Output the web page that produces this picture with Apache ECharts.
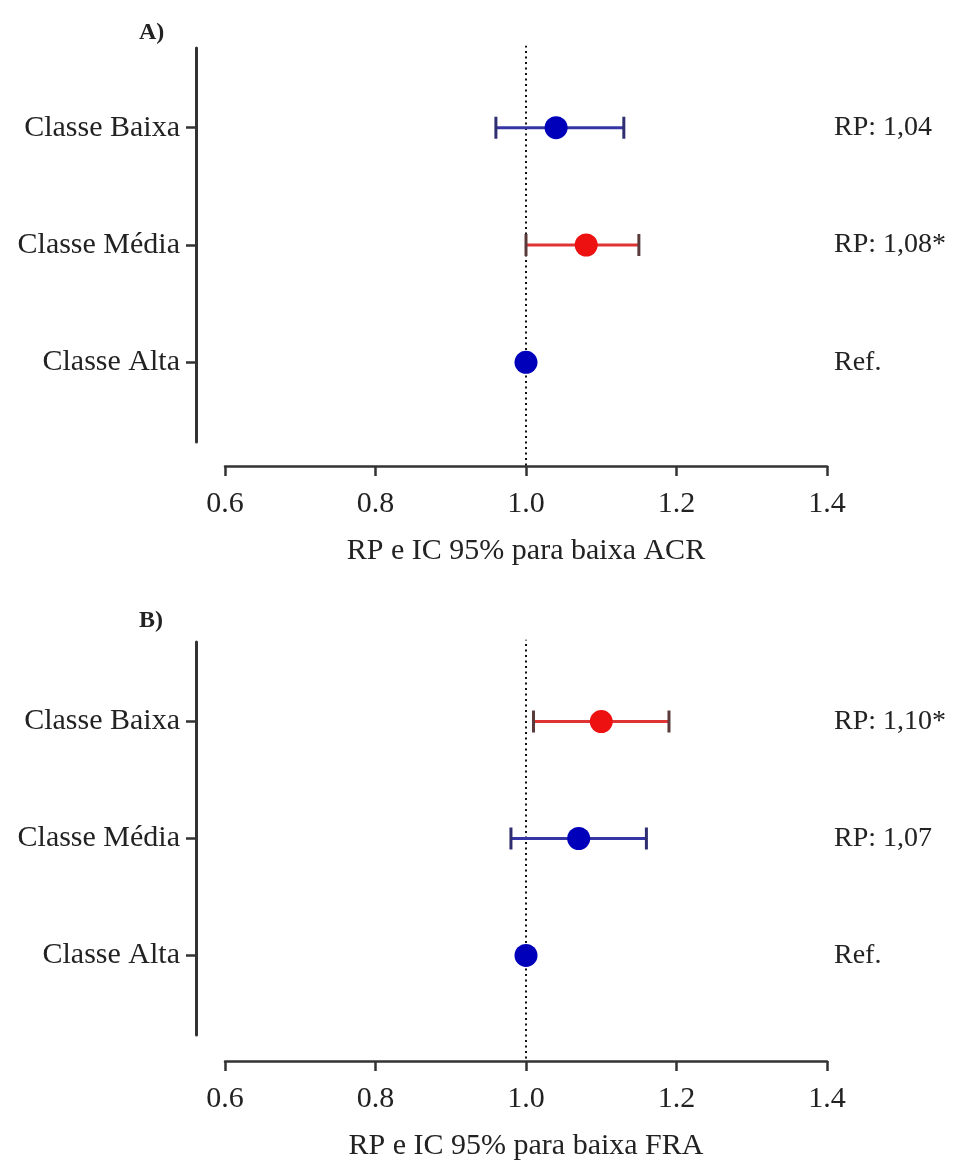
<!DOCTYPE html>
<html>
<head>
<meta charset="utf-8">
<script src="https://cdn.jsdelivr.net/npm/echarts@6/dist/echarts.min.js"></script>
<style>html,body{margin:0;padding:0;background:#fff;}#c{width:957px;height:1162px;}</style>
</head>
<body>
<div id="c"></div>
<script>
// ---- data ----
const categories = ['Classe Baixa', 'Classe Média', 'Classe Alta'];
const catPos = [3, 2, 1];
const xTicks = [0.6, 0.8, 1.0, 1.2, 1.4];

const rpA = [1.04, 1.08, 1.00];
const lowA = [0.96, 1.00, null];
const highA = [1.13, 1.15, null];
const sigA = [false, true, false];
const textA = ['RP: 1,04', 'RP: 1,08*', 'Ref.'];

const rpB = [1.10, 1.07, 1.00];
const lowB = [1.01, 0.98, null];
const highB = [1.19, 1.16, null];
const sigB = [true, false, false];
const textB = ['RP: 1,10*', 'RP: 1,07', 'Ref.'];

const refX = 1.0;
const refLineY = [0.12, 3.7];

// ---- styles ----
const FONT = 'Liberation Serif';
const TXT = '#222';
const AX = '#333';
const BLUE = '#0000bb';
const RED = '#ee1111';
const BLUE_BAR = '#3535a5';
const RED_BAR = '#e03434';

const chart = echarts.init(document.getElementById('c'), null, {renderer: 'canvas'});

function panel(i, top, height, xOffset, xName, rp, low, high, sig, txt) {
  const grid = {left: 225, right: 130, top: top, height: height};
  const xAxis = {
    gridIndex: i, type: 'value', min: 0.6, max: 1.4, interval: 0.2,
    offset: xOffset,
    axisLine: {show: true, onZero: false, lineStyle: {color: AX, width: 2.5}},
    axisTick: {show: true, inside: false, length: 10, lineStyle: {color: AX, width: 2.5}},
    splitLine: {show: false},
    axisLabel: {margin: 23, color: TXT, fontFamily: FONT, fontSize: 30,
      formatter: v => v.toFixed(1)},
    name: xName, nameLocation: 'middle', nameGap: 70,
    nameTextStyle: {color: TXT, fontFamily: FONT, fontSize: 30}
  };
  const yAxis = {
    gridIndex: i, type: 'value', min: 0.32, max: 3.68, offset: 29,
    axisLine: {show: true, onZero: false, lineStyle: {color: AX, width: 3}},
    axisTick: {show: true, length: 10, customValues: catPos, lineStyle: {color: AX, width: 2.5}},
    splitLine: {show: false},
    axisLabel: {show: true, margin: 16, customValues: catPos, color: TXT, fontFamily: FONT, fontSize: 30,
      formatter: v => categories[catPos.indexOf(Math.round(v))] || ''}
  };
  const barData = [];
  const ptData = [];
  const txtData = [];
  for (let k = 0; k < categories.length; k++) {
    if (low[k] != null) barData.push({value: [low[k], high[k], catPos[k]], sig: sig[k]});
    ptData.push({value: [rp[k], catPos[k]], itemStyle: {color: sig[k] ? RED : BLUE, opacity: 1}});
    txtData.push({value: [1.4, catPos[k]], text: txt[k]});
  }
  const series = [
    {
      type: 'line', xAxisIndex: i, yAxisIndex: i, data: [[refX, refLineY[0]], [refX, refLineY[1]]],
      symbol: 'none', clip: false, silent: true, z: 1,
      lineStyle: {color: '#111', width: 2, type: [2, 3.5]}
    },
    {
      type: 'custom', xAxisIndex: i, yAxisIndex: i, z: 3, clip: false,
      data: barData.map(d => ({value: d.value})),
      renderItem: function (params, api) {
        const d = barData[params.dataIndex];
        const p1 = api.coord([api.value(0), api.value(2)]);
        const p2 = api.coord([api.value(1), api.value(2)]);
        const col = d.sig ? RED_BAR : BLUE_BAR;
        const capCol = d.sig ? '#5a3a3a' : '#2e2e70';
        const h = 11;
        return {type: 'group', children: [
          {type: 'line', shape: {x1: p1[0], y1: p1[1], x2: p2[0], y2: p2[1]}, style: {stroke: col, lineWidth: 3}},
          {type: 'line', shape: {x1: p1[0], y1: p1[1] - h, x2: p1[0], y2: p1[1] + h}, style: {stroke: capCol, lineWidth: 3}},
          {type: 'line', shape: {x1: p2[0], y1: p2[1] - h, x2: p2[0], y2: p2[1] + h}, style: {stroke: capCol, lineWidth: 3}}
        ]};
      }
    },
    {
      type: 'scatter', xAxisIndex: i, yAxisIndex: i, z: 5, symbolSize: 23, clip: false,
      itemStyle: {opacity: 1},
      data: ptData
    },
    {
      type: 'custom', xAxisIndex: i, yAxisIndex: i, z: 5, clip: false, silent: true,
      data: txtData.map(d => ({value: d.value})),
      renderItem: function (params, api) {
        const p = api.coord([api.value(0), api.value(1)]);
        return {type: 'text', x: p[0] + 7, y: p[1],
          style: {text: txtData[params.dataIndex].text, fill: TXT, font: '28px "Liberation Serif"',
            textAlign: 'left', textVerticalAlign: 'middle', verticalAlign: 'middle'}};
      }
    }
  ];
  return {grid, xAxis, yAxis, series};
}

const pA = panel(0, 48, 394, 24, 'RP e IC 95% para baixa ACR', rpA, lowA, highA, sigA, textA);
const pB = panel(1, 642, 395, 26, 'RP e IC 95% para baixa FRA', rpB, lowB, highB, sigB, textB);

chart.setOption({
  animation: false,
  backgroundColor: '#fff',
  title: [
    {text: 'A)', left: 134, top: 16, textStyle: {fontFamily: FONT, fontWeight: 'bold', fontSize: 24, color: TXT}},
    {text: 'B)', left: 134, top: 604, textStyle: {fontFamily: FONT, fontWeight: 'bold', fontSize: 24, color: TXT}}
  ],
  grid: [pA.grid, pB.grid],
  xAxis: [pA.xAxis, pB.xAxis],
  yAxis: [pA.yAxis, pB.yAxis],
  series: pA.series.concat(pB.series)
});
</script>
</body>
</html>
